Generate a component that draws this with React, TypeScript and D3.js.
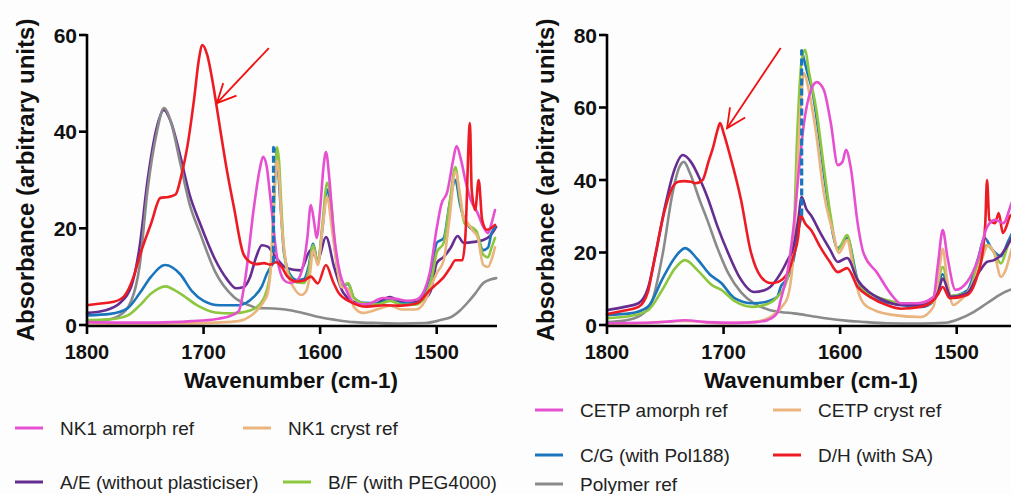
import React from 'react';
import * as d3 from 'd3';

type Pt = [number, number];

// ---------- tick labels ----------
const xTicks = [1800, 1700, 1600, 1500];
const yTicksLeft = [0, 20, 40, 60];
const yTicksRight = [0, 20, 40, 60, 80];

// ---------- LEFT panel (NK1) : [wavenumber, absorbance] ----------
const nk1Amorph: Pt[] = [[1800,0.6],[1770,0.5],[1740,0.5],[1710,0.8],[1690,1.2],[1678,1.8],[1670,2.8],[1664,10],[1657,24],[1652,32],[1649,34.8],[1646,33],[1643,27],[1637,14],[1631,9.3],[1626,8.7],[1620,9.2],[1614,13],[1611,18],[1608,24.8],[1605,21],[1603,18],[1600,24],[1597,33],[1595,35.8],[1592,30],[1589,21],[1583,10.7],[1578,7.5],[1571,4.5],[1560,4.3],[1546,5.6],[1535,5.4],[1525,5],[1517,5.3],[1510,7.5],[1506,10.7],[1500,20],[1496,25],[1491,27.5],[1486,34],[1483,37],[1479,34],[1475,29.5],[1471,26],[1465,23.2],[1460,20.3],[1456,19],[1453,21],[1450,23.8]];
const nk1Cryst: Pt[] = [[1800,0.2],[1760,0.2],[1720,0.3],[1690,0.5],[1670,0.8],[1660,1.8],[1654,3.1],[1648,5],[1645,6.6],[1642,13],[1640,24.4],[1638,32],[1637,34.1],[1635,30],[1633,21],[1630,14],[1628,10.7],[1623,7.9],[1616,6.2],[1612,7],[1609,10],[1606,15.5],[1602,12.4],[1598,20],[1594,26.5],[1590,20],[1586,13],[1582,7.9],[1576,7.5],[1571,3.7],[1563,2.5],[1550,3.3],[1540,4],[1530,3.2],[1518,3.2],[1510,5],[1504,8.5],[1500,10.7],[1494,13.4],[1489,22],[1484,31.7],[1480,27],[1477,22.3],[1473,21],[1469,19.5],[1465,18.2],[1460,12.4],[1456,12],[1453,13.5],[1450,16.1]];
const bfLeft: Pt[] = [[1800,1],[1780,1.2],[1765,2],[1755,4],[1745,6.5],[1733,8],[1720,6.5],[1705,4],[1690,2.6],[1675,2.4],[1660,3],[1651,4.5],[1646,7],[1643,10.7],[1640,22],[1638,33],[1637,36.8],[1635,33],[1634,28],[1631,15.5],[1626,10],[1620,8.8],[1614,8.7],[1610,11],[1606,16.5],[1602,12.8],[1598,21],[1594,29.4],[1590,24],[1587,15.5],[1581,7.9],[1576,8.7],[1571,5.6],[1563,4.5],[1550,4.3],[1540,5],[1530,4.2],[1518,4.2],[1510,6],[1504,10],[1500,15],[1494,17],[1489,25],[1484,32.7],[1480,26],[1476,21],[1472,20.5],[1466,19.5],[1460,14.5],[1456,14],[1453,16],[1450,18]];
const cgLeftA: Pt[] = [[1800,2],[1780,2.3],[1765,3.5],[1755,6.5],[1745,10],[1733,12.4],[1720,10.5],[1710,7],[1700,5],[1686,4.1],[1670,4.1],[1657,5.8],[1650,8],[1645.5,10.7],[1640,12.9]];
const cgLeftJump: Pt[] = [[1640,12.9],[1640,36.8]];
const cgLeftB: Pt[] = [[1640,36.8],[1638,36],[1636,32],[1634,25],[1631,15],[1626,10.5],[1620,9.3],[1614,9.5],[1610,12],[1606,16.8],[1602,12.8],[1598,20],[1594,28],[1590,22],[1587,15],[1581,8],[1576,8.5],[1571,5.6],[1563,4.6],[1550,4.5],[1540,5.2],[1530,4.5],[1518,4.5],[1510,7],[1504,12],[1500,17],[1494,18],[1489,25],[1484,30],[1480,25],[1476,21.7],[1472,20.3],[1466,19],[1460,15.5],[1456,16],[1453,19],[1450,20.3]];
const aeLeft: Pt[] = [[1800,2.5],[1785,3],[1772,4.5],[1762,8],[1755,16],[1748,30],[1740,41],[1734,44.5],[1728,42],[1720,35],[1712,27],[1703,21],[1690,13.5],[1680,9.5],[1672,7.6],[1666,7.8],[1660,10],[1655,14],[1650,16.5],[1645,16.2],[1638,14],[1629,11.8],[1617,11.3],[1608,15.5],[1602,13.5],[1595,18.2],[1588,12],[1580,6.6],[1568,4.5],[1555,4.2],[1540,5.8],[1530,4.8],[1518,4.8],[1510,5.5],[1505,7.2],[1500,12.8],[1494,14.1],[1488,16],[1482,18.4],[1477,17],[1468,17.2],[1460,17.6],[1454,18.5],[1449,20.3]];
const polymerLeft: Pt[] = [[1800,0.8],[1785,1],[1772,2],[1762,5],[1755,12],[1748,28],[1740,40],[1734,44.9],[1728,42],[1720,33.5],[1712,25],[1703,19],[1690,11],[1674,5.8],[1660,4],[1654,3.5],[1640,3.4],[1630,3.2],[1615,2.5],[1600,1.6],[1585,1],[1571,0.6],[1550,0.4],[1530,0.3],[1510,0.4],[1500,0.8],[1494,1.2],[1488,1.6],[1480,3],[1474,4.5],[1467,6.5],[1460,8.7],[1454,9.4],[1449,9.7]];
const dhLeft: Pt[] = [[1800,4.1],[1790,4.4],[1777,4.8],[1768,6],[1760,10],[1754,14.9],[1745,21],[1737,26.3],[1730,26.5],[1724,27],[1719,31],[1714,36.8],[1708,47],[1704,55],[1701,57.9],[1697,56],[1691.5,49.3],[1688,44],[1685.6,40.3],[1680,32],[1674,24.4],[1666,14.8],[1660,13],[1655,12.6],[1648,12.8],[1643,12.5],[1638,13],[1633,12],[1628,10],[1620,9],[1614,9.2],[1608,10],[1602,8.6],[1595,12.4],[1589,9],[1584,6.6],[1574,4.8],[1560,3.8],[1545,4.1],[1530,4],[1517,4.5],[1506,7.2],[1500,8.5],[1494,9.9],[1488,12],[1484,13.4],[1478,13.4],[1475.5,18],[1471.5,41.8],[1470,28],[1467,23.8],[1464,30],[1461,21.7],[1457,19.7],[1450,20.7]];

// ---------- RIGHT panel (CETP) ----------
const cetpAmorph: Pt[] = [[1800,0.5],[1770,0.6],[1750,0.9],[1733,1.3],[1715,0.8],[1690,0.6],[1672,0.8],[1662,1.4],[1654,3.3],[1651,6.9],[1645,15],[1640,27],[1635,44],[1631,55.7],[1625,64.8],[1620,67],[1614,64.8],[1608,55.7],[1602,44.1],[1598,45],[1595,48.3],[1591,43.6],[1585,28.1],[1580,19.9],[1568,14.3],[1557,8.8],[1548,6],[1534,6],[1520,7.7],[1516,17],[1512,26.2],[1508,18.8],[1501,9.7],[1491,11.9],[1482,17.9],[1474,27],[1467,29],[1460,28.1],[1453,33.6],[1450,36]];
const cetpCryst: Pt[] = [[1800,0.3],[1770,0.5],[1733,1.1],[1700,0.5],[1675,0.8],[1660,2.2],[1650,5],[1645,7.7],[1640,20],[1638,32.6],[1634,60],[1631,69.5],[1627,64.8],[1621,53.8],[1614,36.4],[1606,25.4],[1601,19.9],[1594,23.4],[1590,18],[1587,12.4],[1580,6],[1570,4],[1555,2.8],[1531,2.2],[1520,5],[1516,12],[1512,21],[1508,12],[1503,5.5],[1498,6.5],[1491,8.8],[1484,13],[1478,18.5],[1473,22],[1468,19.9],[1462,13.3],[1458,15.2],[1453,20.7],[1450,23]];
const bfRight: Pt[] = [[1800,1.9],[1780,2.5],[1765,4],[1752,10],[1742,15.5],[1733,17.9],[1722,15],[1710,11],[1702,9.7],[1690,6.5],[1675,5],[1665,5.5],[1654,7.7],[1646,12],[1640,23.4],[1637,51],[1633,73],[1630,75.9],[1627,70.3],[1620,58.5],[1614,43.6],[1608,29.8],[1602,20.7],[1594,24.8],[1587,14.3],[1581,10.2],[1570,8],[1548,6],[1530,5.5],[1520,6.5],[1512,16],[1505,8],[1496,8.5],[1490,9],[1482,17],[1474,22],[1468,20],[1462,17],[1456,22],[1450,26]];
const cgRightA: Pt[] = [[1800,2.8],[1780,3.2],[1765,5],[1752,13],[1742,18.5],[1733,21.2],[1722,18],[1712,14],[1702,11.6],[1691,7.5],[1675,6],[1665,6.3],[1654,7.7],[1651,10.5],[1645,13],[1640,17.9],[1636,26],[1633,30.2]];
const cgRightJump: Pt[] = [[1633,30.2],[1633,75.8]];
const cgRightB: Pt[] = [[1633,75.8],[1628,69.5],[1624,64.8],[1618,51.9],[1612,37.2],[1602,21.2],[1594,24],[1585,12.4],[1574,7.7],[1548,5.5],[1530,5],[1520,6.5],[1512,14],[1505,8],[1491,9.5],[1482,18],[1476,24],[1470,21],[1462,19],[1456,23],[1450,27]];
const aeRight: Pt[] = [[1800,4.1],[1785,5],[1773,6],[1765,10],[1758,20],[1750,33],[1742,43],[1735,46.9],[1728,45],[1720,40],[1714,35.4],[1705,27],[1696,19.8],[1686,13],[1674,9.1],[1665,9.6],[1660,10.5],[1651,14.3],[1645,18],[1640,21.5],[1636,29],[1633,35.3],[1629,32],[1625,30.3],[1617,25.4],[1609,21],[1602,17.4],[1594,18.5],[1585,12.4],[1574,8.8],[1560,6.5],[1548,5.5],[1531,5.5],[1520,6.9],[1516,9],[1512,12.8],[1505,7.8],[1491,8.8],[1480,15],[1474,17.4],[1468,17.9],[1462,19.3],[1454,23.4],[1450,26]];
const polymerRight: Pt[] = [[1800,0.8],[1785,1.2],[1772,2.5],[1762,6],[1752,20],[1744,36],[1738,43.5],[1734,45],[1729,42],[1720,34],[1714,29],[1705,21],[1696,14.3],[1685,9],[1674,6],[1660,4.1],[1651,3.6],[1640,3.2],[1625,2.5],[1611,1.8],[1595,1.2],[1582,0.9],[1560,0.5],[1530,0.4],[1510,0.6],[1497,1.8],[1486,3.5],[1474,6],[1462,8.5],[1454,9.7],[1450,10]];
const dhRight: Pt[] = [[1800,3],[1785,4],[1773,5],[1765,9],[1760,17],[1751,31],[1745,37.2],[1739,39.5],[1734,39.7],[1728,39.5],[1724,39.1],[1718,40],[1713,45],[1709,49],[1705,54],[1703,55.7],[1700,53],[1695,47.4],[1685,34.5],[1677,20.7],[1668,13.3],[1660,11.6],[1657,11.6],[1650,12.5],[1645,14.3],[1640,19],[1636,24.3],[1634,30.3],[1630,28],[1625,26.2],[1617,21.5],[1609,17.5],[1602,14.6],[1594,15.7],[1585,10.5],[1574,7.7],[1560,5.5],[1548,4.5],[1531,5],[1520,6.9],[1516,8.5],[1512,10.5],[1506,7.4],[1491,8.3],[1482,14],[1477.5,20.7],[1475.5,28],[1474,40],[1472,29],[1467,28.1],[1464,30.9],[1460.4,25.4],[1457,27.5],[1454.7,29.8],[1450,31]];

// ---------- annotation arrows (tail, tip) in data units ----------
const arrowLeft: Pt[] = [[1644, 57.3], [1688.6, 45.9]];
const arrowRight: Pt[] = [[1651, 76.4], [1697, 54.3]];

// ---------- legends ----------
const legendLeftLabels = ['NK1 amorph ref', 'NK1 cryst ref', 'A/E (without plasticiser)', 'B/F (with PEG4000)'];
const legendRightLabels = ['CETP amorph ref', 'CETP cryst ref', 'C/G (with Pol188)', 'D/H (with SA)', 'Polymer ref'];

const C = {
  pink: '#e650d0', tan: '#e9b47e', purple: '#662d91', green: '#8dc63f',
  blue: '#1b75bc', red: '#ed1c24', gray: '#8a8a8a',
};
const legendLeftColors = [C.pink, C.tan, C.purple, C.green];
const legendRightColors = [C.pink, C.tan, C.blue, C.red, C.gray];
// legend swatch anchor positions (layout)
const legendLeftPos: Pt[] = [[15, 428], [243, 428], [15, 482], [283, 482]];
const legendRightPos: Pt[] = [[535, 410], [773, 410], [535, 455], [773, 455], [535, 484]];

const FONT = '"Liberation Sans", Arial, Helvetica, sans-serif';

type Series = { data: Pt[]; color: string; dashed?: boolean; straight?: boolean };

function Panel(props: {
  x0: number; x1: number; yMax: number; yTicks: number[];
  series: Series[]; arrow: Pt[]; titleX: number;
}) {
  const { x0, x1, yMax, yTicks, series, arrow, titleX } = props;
  const yTop = 35, yBot = 325;
  const x = d3.scaleLinear().domain([1800, 1450]).range([x0, x1]);
  const y = d3.scaleLinear().domain([0, yMax]).range([yBot, yTop]);
  const curve = d3.line<Pt>().x(d => x(d[0])).y(d => y(d[1])).curve(d3.curveMonotoneX);
  const straight = d3.line<Pt>().x(d => x(d[0])).y(d => y(d[1]));

  const [tail, tip] = arrow;
  const tx = x(tip[0]), ty = y(tip[1]);
  const sx = x(tail[0]), sy = y(tail[1]);
  const ang = Math.atan2(sy - ty, sx - tx);
  const hl = 21, ha = 0.45;
  const b1 = [tx + hl * Math.cos(ang + ha), ty + hl * Math.sin(ang + ha)];
  const b2 = [tx + hl * Math.cos(ang - ha), ty + hl * Math.sin(ang - ha)];

  return (
    <g>
      {series.map((s, i) => (
        <path key={i}
          d={(s.straight ? straight(s.data) : curve(s.data)) || ''}
          fill="none" stroke={s.color}
          strokeWidth={s.dashed ? 3.2 : 2.6}
          strokeDasharray={s.dashed ? '7,3' : undefined}
          strokeLinejoin="round" strokeLinecap={s.dashed ? 'butt' : 'round'} />
      ))}
      <line x1={x0} x2={x1 + 2} y1={yBot + 1} y2={yBot + 1} stroke="#000" strokeWidth={2.6} />
      <line x1={x0} x2={x0} y1={yTop - 1} y2={yBot + 2} stroke="#000" strokeWidth={2.6} />
      {xTicks.map(t => (
        <g key={t}>
          <line x1={x(t)} x2={x(t)} y1={yBot + 1} y2={yBot + 9} stroke="#000" strokeWidth={2.6} />
          <text x={x(t)} y={352} textAnchor="middle" dominantBaseline="central"
            fontFamily={FONT} fontWeight="bold" fontSize={20} fill="#111">{t}</text>
        </g>
      ))}
      {yTicks.map(t => (
        <g key={t}>
          <line x1={x0 - 8} x2={x0} y1={y(t)} y2={y(t)} stroke="#000" strokeWidth={2.6} />
          <text x={x0 - 10} y={y(t)} textAnchor="end" dominantBaseline="central"
            fontFamily={FONT} fontWeight="bold" fontSize={21} fill="#111">{t}</text>
        </g>
      ))}
      <text x={titleX} y={380} textAnchor="middle" dominantBaseline="central"
        fontFamily={FONT} fontWeight="bold" fontSize={22.5} fill="#111">Wavenumber (cm-1)</text>
      <text transform={`translate(${x0 - 62},180) rotate(-90)`} textAnchor="middle" dominantBaseline="central"
        fontFamily={FONT} fontWeight="bold" fontSize={24} fill="#111">Absorbance (arbitrary units)</text>
      <line x1={sx} y1={sy} x2={tx} y2={ty} stroke="#f01010" strokeWidth={1.8} />
      <polyline points={`${b1[0]},${b1[1]} ${tx},${ty} ${b2[0]},${b2[1]}`} fill="none" stroke="#f01010" strokeWidth={1.8} />
    </g>
  );
}

function Legend(props: { labels: string[]; colors: string[]; pos: Pt[] }) {
  const { labels, colors, pos } = props;
  return (
    <g>
      {labels.map((label, i) => {
        const [lx, ly] = pos[i];
        return (
          <g key={label}>
            <line x1={lx} x2={lx + 28} y1={ly} y2={ly} stroke={colors[i]} strokeWidth={3} />
            <text x={lx + 45} y={ly} dominantBaseline="central" fontFamily={FONT} fontSize={19} fill="#222">{label}</text>
          </g>
        );
      })}
    </g>
  );
}

export default function App() {
  const leftSeries: Series[] = [
    { data: aeLeft, color: C.purple },
    { data: polymerLeft, color: C.gray },
    { data: cgLeftA, color: C.blue },
    { data: cgLeftB, color: C.blue },
    { data: bfLeft, color: C.green },
    { data: nk1Cryst, color: C.tan },
    { data: nk1Amorph, color: C.pink },
    { data: dhLeft, color: C.red },
    { data: cgLeftJump, color: C.blue, dashed: true, straight: true },
  ];
  const rightSeries: Series[] = [
    { data: polymerRight, color: C.gray },
    { data: cgRightA, color: C.blue },
    { data: cgRightB, color: C.blue },
    { data: bfRight, color: C.green },
    { data: cetpCryst, color: C.tan },
    { data: aeRight, color: C.purple },
    { data: dhRight, color: C.red },
    { data: cetpAmorph, color: C.pink },
    { data: cgRightJump, color: C.blue, dashed: true, straight: true },
  ];
  return (
    <svg width={1011} height={494} style={{ position: 'absolute', left: 0, top: 0, background: '#fdfdfd' }}>
      <rect width={1011} height={494} fill="#fdfdfd" />
      <Panel x0={87} x1={495} yMax={60} yTicks={yTicksLeft} series={leftSeries} arrow={arrowLeft} titleX={291} />
      <Panel x0={607} x1={1015} yMax={80} yTicks={yTicksRight} series={rightSeries} arrow={arrowRight} titleX={811} />
      <Legend labels={legendLeftLabels} colors={legendLeftColors} pos={legendLeftPos} />
      <Legend labels={legendRightLabels} colors={legendRightColors} pos={legendRightPos} />
    </svg>
  );
}
